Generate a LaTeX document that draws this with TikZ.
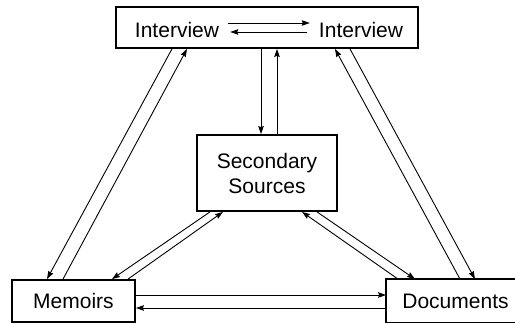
\documentclass[tikz,border=0pt]{standalone}
\usepackage{fontspec}
\setmainfont{Liberation Sans}
\usetikzlibrary{arrows.meta}
\begin{document}
\begin{tikzpicture}[
        x=1pt, y=-1pt,
        every node/.style={
            font=\fontsize{21}{25}\selectfont
        },
        caja/.style={
            rectangle,
            draw=black,
            fill=white,
            line width=1.8pt,
            inner sep=0pt
        },
        texto/.style={
            inner xsep=9pt,
            inner ysep=0pt
        },
        flecha/.style={
            -{Stealth[length=8pt,width=5.5pt,inset=1pt]},
            line width=0.9pt
        }
    ]

    \path[use as bounding box, clip] (0,0) rectangle (515,323);

    % Cajas
    \node[caja, minimum width=302pt, minimum height=41pt] (top) at (267,27.5) {};
    \node[caja, minimum width=140pt, minimum height=76pt, align=center] (sec) at (267,173) {Secondary\\Sources};
    \node[caja, minimum width=123pt, minimum height=42pt] (mem) at (73.5,301) {Memoirs};
    \node[caja, draw=none, minimum width=137pt, minimum height=42pt] (doc) at (455.5,301) {Documents};
    \draw[line width=1.8pt] (doc.north east) -- (doc.north west) -- (doc.south west) -- (doc.south east);

    % Textos de la caja superior
    \node[texto] (intA) at (177,29.5) {Interview};
    \node[texto] (intB) at (361,29.5) {Interview};

    % Flechas entre las entrevistas
    \draw[flecha] ([yshift=6.5pt]intA.east) -- ([yshift=6.5pt]intB.west);
    \draw[flecha] ([xshift=-3pt,yshift=-2.5pt]intB.west) -- ([xshift=2pt,yshift=-2.5pt]intA.east);

    % Flechas desde y hacia la caja superior
    \draw[flecha] ([xshift=-95pt]top.south) -- ([xshift=-26.5pt]mem.north);
    \draw[flecha] ([xshift=-10.5pt]mem.north) -- ([xshift=-80pt]top.south);
    \draw[flecha] ([xshift=83pt]top.south) -- ([xshift=19.5pt]doc.north);
    \draw[flecha] ([xshift=4.5pt]doc.north) -- ([xshift=68pt]top.south);
    \draw[flecha] ([xshift=-6pt]top.south) -- ([xshift=-6pt]sec.north);
    \draw[flecha] ([xshift=10pt]sec.north) -- ([xshift=10pt]top.south);

    % Flechas de las fuentes secundarias
    \draw[flecha] ([xshift=-57pt]sec.south) -- ([xshift=38.5pt]mem.north);
    \draw[flecha] ([xshift=54.5pt]mem.north) -- ([xshift=-44pt]sec.south);
    \draw[flecha] ([xshift=50pt]sec.south) -- ([xshift=-40.5pt]doc.north);
    \draw[flecha] ([xshift=-57.5pt]doc.north) -- ([xshift=35pt]sec.south);

    % Flechas entre memorias y documentos
    \draw[flecha] ([yshift=6pt]mem.east) -- ([yshift=6pt]doc.west);
    \draw[flecha] ([yshift=-7pt]doc.west) -- ([yshift=-7pt]mem.east);

\end{tikzpicture}
\end{document}
